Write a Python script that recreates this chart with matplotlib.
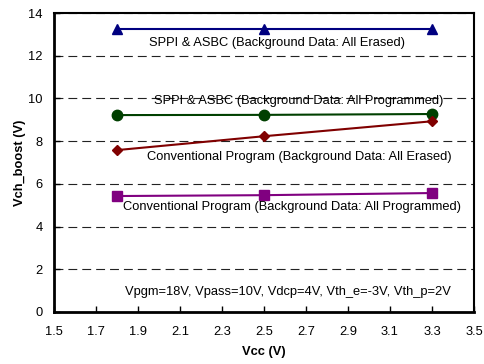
import matplotlib
matplotlib.use("Agg")
import matplotlib.pyplot as plt
import numpy as np

plt.rcParams['font.family'] = ['Liberation Sans', 'DejaVu Sans']

vcc = [1.8, 2.5, 3.3]
sppi_erased = [13.25, 13.25, 13.25]
sppi_programmed = [9.22, 9.23, 9.27]
conv_erased = [7.58, 8.23, 8.93]
conv_programmed = [5.43, 5.47, 5.57]

labels = [
    "SPPI & ASBC (Background Data: All Erased)",
    "SPPI & ASBC (Background Data: All Programmed)",
    "Conventional Program (Background Data: All Erased)",
    "Conventional Program (Background Data: All Programmed)",
]
note = "Vpgm=18V, Vpass=10V, Vdcp=4V, Vth_e=-3V, Vth_p=2V"

fig = plt.figure(figsize=(4.84, 3.64), dpi=100)
ax = fig.add_axes([54 / 484, 1 - 312 / 364, 420 / 484, 299 / 364])

ax.plot(vcc, sppi_erased, color="#000080", marker="^", markersize=7.5, linewidth=1.5)
ax.plot(vcc, sppi_programmed, color="#004000", marker="o", markersize=7.5, linewidth=1.5)
ax.plot(vcc, conv_erased, color="#800000", marker="D", markersize=5.5, linewidth=1.5)
ax.plot(vcc, conv_programmed, color="#800080", marker="s", markersize=7, linewidth=1.5)

fs = 9.3
ax.text(2.564, 12.6, labels[0], ha="center", va="center", fontsize=fs)
ax.text(2.667, 9.88, labels[1], ha="center", va="center", fontsize=fs)
ax.text(2.669, 7.26, labels[2], ha="center", va="center", fontsize=fs)
ax.text(2.633, 4.92, labels[3], ha="center", va="center", fontsize=fs)
ax.text(2.613, 0.94, note, ha="center", va="center", fontsize=fs)

ax.set_xlim(1.5, 3.5)
ax.set_ylim(0, 14)
xt = np.arange(1.5, 3.51, 0.2)
ax.set_xticks(xt)
ax.set_xticklabels([f"{v:.1f}" for v in xt])
ax.set_yticks(range(0, 15, 2))
ax.tick_params(labelsize=fs, direction="in", length=4, width=1)
ax.tick_params(axis="x", pad=10)
ax.tick_params(axis="y", pad=8)
ax.yaxis.grid(True, linestyle=(0, (8, 4.5)), color="#222222", linewidth=0.8)

for side in ["left", "bottom"]:
    ax.spines[side].set_linewidth(2)
for side in ["top", "right"]:
    ax.spines[side].set_linewidth(1.5)

ax.set_xlabel("Vcc (V)", fontsize=fs, fontweight="bold", labelpad=6)
ax.set_ylabel("Vch_boost (V)", fontsize=fs, fontweight="bold", labelpad=2)

fig.savefig("out.png", dpi=100)
